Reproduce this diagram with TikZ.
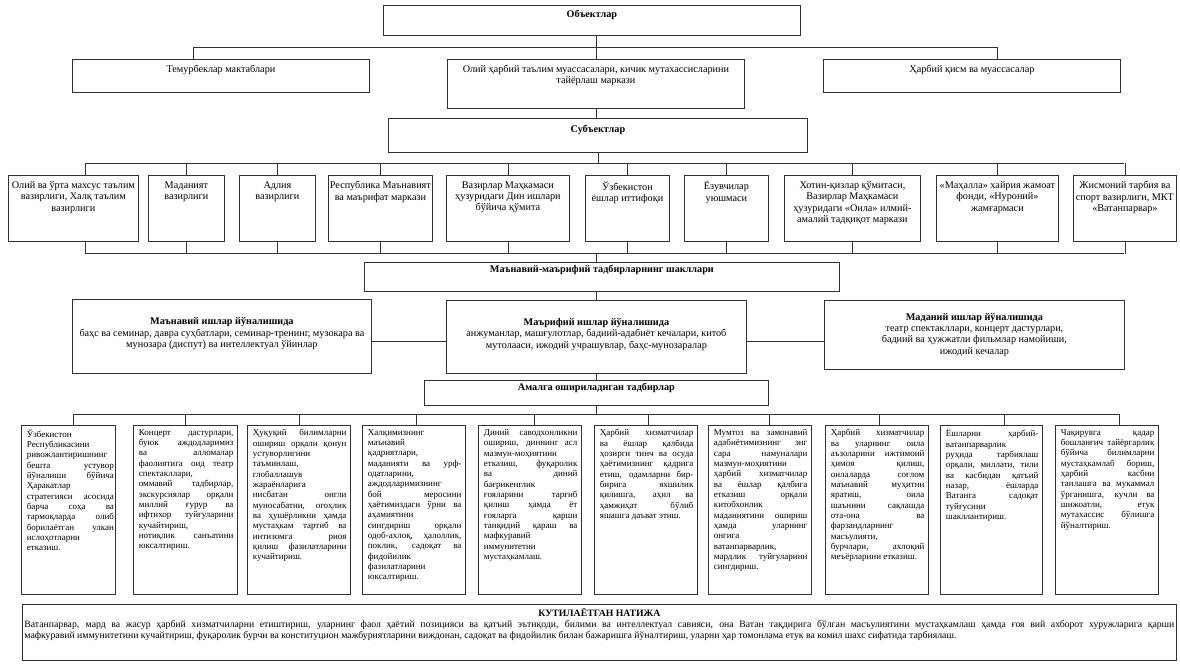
\documentclass[tikz,border=0pt]{standalone}
\usepackage{fontspec}
\setmainfont{Liberation Serif}
\newlength\pxu \setlength\pxu{0.75pt}
\newcommand\fsA{\fontsize{7.65pt}{8.5pt}\selectfont}
\newcommand\fsB{\fontsize{6.75pt}{7.75pt}\selectfont}
\newcommand\fsC{\fontsize{7.3pt}{8.3pt}\selectfont}
% top-aligned centred box: \TB[pad]{w}{h}{text}
\newcommand\TB[4][4]{\parbox[c][#3\pxu][t]{#2\pxu}{\centering\vspace*{#1\pxu}#4\par}}
% vertically centred box
\newcommand\CB[3]{\parbox[c][#2\pxu][c]{#1\pxu}{\centering #3\par}}
% justified box: \JB[rightpad]{w}{h}{text}
\newcommand\JB[4][4]{\parbox[c][#3\pxu][t]{#2\pxu}{\vspace*{4\pxu}\leftskip=5.5\pxu\rightskip=#1\pxu\tolerance=10000\hbadness=10000\hyphenpenalty=10000\relax #4\par}}
\tikzset{
  bx/.style={draw=black!80, line width=0.6pt, inner sep=0pt, anchor=north west, font=\fsA},
  bb/.style={bx, font=\fsB},
  ln/.style={draw=black!80, line width=0.6pt},
}
\begin{document}
\begin{tikzpicture}[x=0.75pt,y=-0.75pt]
\fill[white] (0,0) rectangle (1180,667);
\useasboundingbox (0,0) rectangle (1180,667);
% ---------- objects
\node[bx] (obj) at (383,5) {\TB[4.5]{417}{30}{\textbf{Объектлар}}};
\node[bx] (temur) at (72,59) {\TB[5.5]{297}{33}{Темурбеклар мактаблари}};
\node[bx] (olii) at (447,59) {\TB[5.5]{297}{49}{Олий ҳарбий таълим муассасалари, кичик мутахассисларини\\ тайёрлаш маркази}};
\node[bx] (harb) at (823,59) {\TB[5.5]{297}{33}{Ҳарбий қисм ва муассасалар}};
% ---------- subjects
\node[bx] (subj) at (388,118) {\TB[6.5]{419}{34}{\textbf{Субъектлар}}};
\node[bx] (s1) at (8,175) {\TB[6]{130}{66}{Олий ва ўрта махсус таълим\\ вазирлиги, Халқ таълим\\ вазирлиги}};
\node[bx] (s2) at (148,175) {\TB[6]{76}{66}{Маданият\\ вазирлиги}};
\node[bx] (s3) at (239,175) {\TB[6]{76}{66}{Адлия\\ вазирлиги}};
\node[bx] (s4) at (328,175) {\TB[6]{104}{66}{Республика Маънавият\\ ва маърифат маркази}};
\node[bx] (s5) at (446,175) {\TB[6]{123}{66}{Вазирлар Маҳкамаси\\ ҳузуридаги Дин ишлари\\ бўйича қўмита}};
\node[bx] (s6) at (585,175) {\TB[6]{84}{66}{Ўзбекистон\\ ёшлар иттифоқи}};
\node[bx] (s7) at (684,175) {\TB[6]{84}{66}{Ёзувчилар\\ уюшмаси}};
\node[bx] (s8) at (784,175) {\TB[6]{136}{66}{Хотин-қизлар қўмитаси,\\ Вазирлар Маҳкамаси\\ ҳузуридаги «Оила» илмий-\\ амалий тадқиқот маркази}};
\node[bx] (s9) at (936,175) {\TB[6]{122}{66}{«Маҳалла» хайрия жамоат\\ фонди, «Нуроний»\\ жамғармаси}};
\node[bx] (s10) at (1073,175) {\TB[6]{103}{66}{Жисмоний тарбия ва\\ спорт вазирлиги, МКТ\\ «Ватанпарвар»}};
% ---------- forms
\node[bx] (mm) at (364,262) {\TB[3]{475}{29}{\textbf{Маънавий-маърифий тадбирларнинг шакллари}}};
\node[bx] (mv) at (72,299) {\CB{299}{74}{\textbf{Маънавий ишлар йўналишида}\\ баҳс ва семинар, давра суҳбатлари, семинар-тренинг, музокара ва\\ мунозара (диспут) ва интеллектуал ўйинлар\\[4pt]}};
\node[bx] (mr) at (446,300) {\CB{300}{73}{\textbf{Маърифий ишлар йўналишида}\\ анжуманлар, машғулотлар, бадиий-адабиёт кечалари, китоб\\ мутолааси, ижодий учрашувлар, баҳс-мунозаралар\\[4pt]}};
\node[bx] (md) at (824,300) {\CB{300}{69}{\textbf{Маданий ишлар йўналишида}\\ театр спектакллари, концерт дастурлари,\\ бадиий ва ҳужжатли фильмлар намойиши,\\ ижодий кечалар}};
\node[bx] (am) at (424,380) {\TB[2.5]{344}{25}{\textbf{Амалга ошириладиган тадбирлар}}};
% ---------- activities
\node[bb] (b1) at (21,425) {\JB[1.5]{94}{169}{Ўзбекистон\linebreak Республикасини\linebreak ривожлантиришнинг\linebreak бешта устувор\linebreak йўналиши бўйича\linebreak Ҳаракатлар\linebreak стратегияси асосида\linebreak барча соҳа ва\linebreak тармоқларда олиб\linebreak борилаётган улкан\linebreak ислоҳотларни\linebreak етказиш.}};
\node[bb] (b2) at (133,425) {\JB{104}{169}{Концерт дастурлари,\linebreak буюк аждодларимиз\linebreak ва алломалар\linebreak фаолиятига оид театр\linebreak спектакллари,\linebreak оммавий тадбирлар,\linebreak экскурсиялар орқали\linebreak миллий ғурур ва\linebreak ифтихор туйғуларини\linebreak кучайтириш,\linebreak нотиқлик санъатини\linebreak юксалтириш.}};
\node[bb] (b3) at (247,425) {\JB{103}{169}{Ҳуқуқий билимларни\linebreak ошириш орқали қонун\linebreak устуворлигини\linebreak таъминлаш,\linebreak глобаллашув\linebreak жараёнларига\linebreak нисбатан онгли\linebreak муносабатни, огоҳлик\linebreak ва ҳушёрликни ҳамда\linebreak мустаҳкам тартиб ва\linebreak интизомга риоя\linebreak қилиш фазилатларини\linebreak кучайтириш.}};
\node[bb] (b4) at (362,425) {\JB{103}{169}{Халқимизнинг\linebreak маънавий\linebreak қадриятлари,\linebreak маданияти ва урф-\linebreak одатларини,\linebreak аждодларимизнинг\linebreak бой меросини\linebreak ҳаётимиздаги ўрни ва\linebreak аҳамиятини\linebreak сингдириш орқали\linebreak одоб-ахлоқ, ҳалоллик,\linebreak поклик, садоқат ва\linebreak фидойилик\linebreak фазилатларини\linebreak юксалтириш.}};
\node[bb] (b5) at (478,425) {\JB{103}{169}{Диний саводхонликни\linebreak ошириш, диннинг асл\linebreak мазмун-моҳиятини\linebreak етказиш, фуқаролик\linebreak ва диний\linebreak бағрикенглик\linebreak ғояларини тарғиб\linebreak қилиш ҳамда ёт\linebreak ғояларга қарши\linebreak танқидий қараш ва\linebreak мафкуравий\linebreak иммунитетни\linebreak мустаҳкамлаш.}};
\node[bb] (b6) at (594,425) {\JB{103}{169}{Ҳарбий хизматчилар\linebreak ва ёшлар қалбида\linebreak ҳозирги тинч ва осуда\linebreak ҳаётимизнинг қадрига\linebreak етиш, одамларни бир-\linebreak бирига яхшилик\linebreak қилишга, аҳил ва\linebreak ҳамжиҳат бўлиб\linebreak яшашга даъват этиш.}};
\node[bb] (b7) at (708,425) {\JB{103}{169}{Мумтоз ва замонавий\linebreak адабиётимизнинг энг\linebreak сара намуналари\linebreak мазмун-моҳиятини\linebreak ҳарбий хизматчилар\linebreak ва ёшлар қалбига\linebreak етказиш орқали\linebreak китобхонлик\linebreak маданиятини ошириш\linebreak ҳамда уларнинг\linebreak онгига\linebreak ватанпарварлик,\linebreak мардлик туйғуларини\linebreak сингдириш.}};
\node[bb] (b8) at (825,425) {\JB{103}{169}{Ҳарбий хизматчилар\linebreak ва уларнинг оила\linebreak аъзоларини ижтимоий\linebreak ҳимоя қилиш,\linebreak оилаларда соғлом\linebreak маънавий муҳитни\linebreak яратиш, оила\linebreak шаънини сақлашда\linebreak ота-она ва\linebreak фарзандларнинг\linebreak масъулияти,\linebreak бурчлари, ахлоқий\linebreak меъёрларини етказиш.}};
\node[bb] (b9) at (940,425) {\JB{102}{169}{Ёшларни ҳарбий-\linebreak ватанпарварлик\linebreak руҳида тарбиялаш\linebreak орқали, миллати, тили\linebreak ва касбидан қатъий\linebreak назар, ёшларда\linebreak Ватанга садоқат\linebreak туйғусини\linebreak шакллантириш.}};
\node[bb] (b10) at (1055,425) {\JB{103}{169}{Чақирувга қадар\linebreak бошланғич тайёргарлик\linebreak бўйича билимларни\linebreak мустаҳкамлаб бориш,\linebreak ҳарбий касбни\linebreak танлашга ва мукаммал\linebreak ўрганишга, кучли ва\linebreak шижоатли, етук\linebreak мутахассис бўлишга\linebreak йўналтириш.}};
% ---------- result
\node[bx, font=\fsC] (res) at (22,604) {\parbox[c][56\pxu][t]{1154\pxu}{\vspace*{4\pxu}{\centering\textbf{КУТИЛАЁТГАН НАТИЖА}\par}\leftskip=2\pxu\rightskip=2\pxu\tolerance=10000\hyphenpenalty=10000 Ватанпарвар, мард ва жасур ҳарбий хизматчиларни етиштириш, уларнинг фаол ҳаётий позицияси ва қатъий эътиқоди, билими ва интеллектуал савияси, она Ватан тақдирига бўлган масъулиятини мустаҳкамлаш ҳамда ғоя вий ахборот хуружларига қарши\linebreak мафкуравий иммунитетини кучайтириш, фуқаролик бурчи ва конституцион мажбуриятларини виждонан, садоқат ва фидойилик билан бажаришга йўналтириш, уларни ҳар томонлама етук ва комил шахс сифатида тарбиялаш.\par}};
% ---------- connectors
\coordinate (oL) at (193,47.7);
\coordinate (oR) at (997,47.7);
\draw[ln] (oL |- temur.north) -- (oL) -- (oR) -- (oR |- harb.north);
\draw[ln] (obj.south -| olii.north) -- (olii.north);
\draw[ln] (olii.south) -- (olii.south |- subj.north);
\coordinate (sL) at (85,163);
\coordinate (sR) at (1124,163);
\draw[ln] (subj.south) -- (subj.south |- sL);
\draw[ln] (sL |- s1.north) -- (sL) -- (sR);
\coordinate (mL) at (85,253.5);
\coordinate (mR) at (1124,253.5);
\draw[ln] (sL |- s1.south) -- (mL) -- (mR);
\foreach \n in {2,...,10} {
  \draw[ln] (s\n.north) -- (s\n.north |- sL);
  \draw[ln] (s\n.south) -- (s\n.south |- mL);
}
\draw[ln] (mr.north |- mL) -- (mr.north |- mm.north);
\draw[ln] (mr.north |- mm.south) -- (mr.north);
\coordinate (rY) at (0,341);
\draw[ln] (mv.east |- rY) -- (mr.west |- rY);
\draw[ln] (mr.east |- rY) -- (md.west |- rY);
\draw[ln] (mr.south) -- (am.north);
\coordinate (bY) at (0,414);
\draw[ln] (am.south) -- (am.south |- bY);
\foreach \n/\o in {1/5,2/0,3/0,4/2,5/4,6/2,7/9,8/2,9/13,10/12} {
  \coordinate (d\n) at ([xshift=\o*0.75pt]b\n.north);
  \draw[ln] (d\n) -- (d\n |- bY);
}
\draw[ln] (d1 |- bY) -- (d10 |- bY);
\end{tikzpicture}
\end{document}
